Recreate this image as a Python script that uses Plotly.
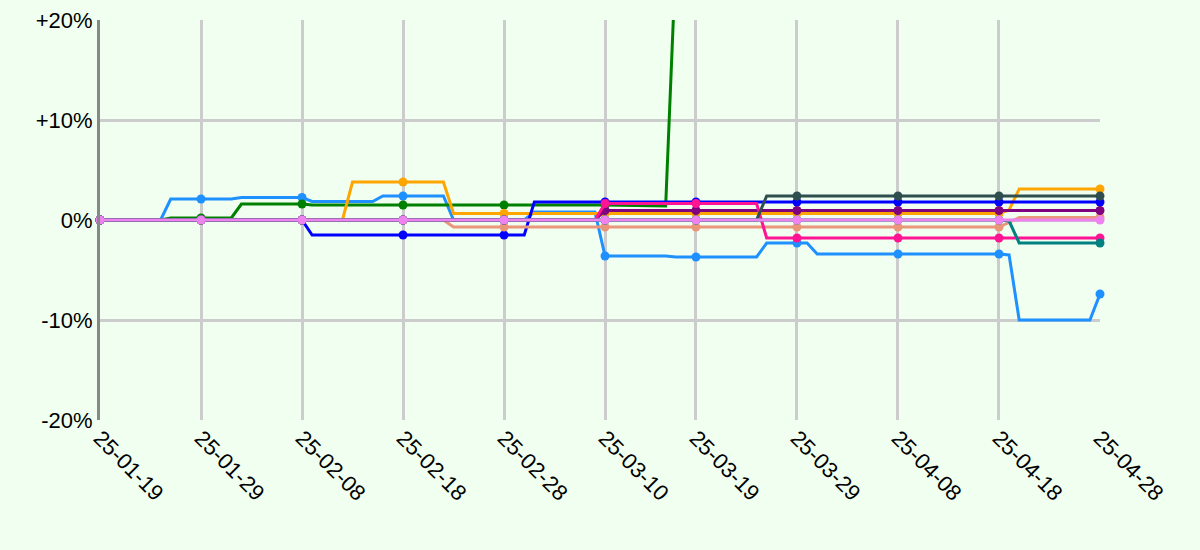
import plotly.graph_objects as go

# ---------------- data (percent change) ----------------
TICK_DATES = ["2025-01-19", "2025-01-29", "2025-02-08", "2025-02-18", "2025-02-28",
              "2025-03-10", "2025-03-19", "2025-03-29", "2025-04-08", "2025-04-18",
              "2025-04-28"]
TICK_TEXT = ["25-01-19", "25-01-29", "25-02-08", "25-02-18", "25-02-28",
             "25-03-10", "25-03-19", "25-03-29", "25-04-08", "25-04-18", "25-04-28"]
Y_TICKS = [-20, -10, 0, 10, 20]
Y_TEXT = ["-20%", "-10%", "0%", "+10%", "+20%"]

dodger_dates = ["2025-01-19", "2025-01-25", "2025-01-26", "2025-01-29", "2025-02-01",
                "2025-02-02", "2025-02-08", "2025-02-09", "2025-02-15", "2025-02-16",
                "2025-02-18", "2025-02-22", "2025-02-23", "2025-02-28", "2025-03-02",
                "2025-03-03", "2025-03-09", "2025-03-10", "2025-03-16", "2025-03-17",
                "2025-03-19", "2025-03-25", "2025-03-26", "2025-03-29", "2025-03-30",
                "2025-03-31", "2025-04-08", "2025-04-18", "2025-04-19", "2025-04-20",
                "2025-04-27", "2025-04-28"]
dodger_vals = [0, 0, 2.1, 2.1, 2.1,
               2.25, 2.25, 1.85, 1.85, 2.4,
               2.4, 2.4, 0, 0, 0,
               0.8, 0.8, -3.6, -3.6, -3.7,
               -3.7, -3.7, -2.3, -2.3, -2.3,
               -3.4, -3.4, -3.4, -3.5, -10.0,
               -10.0, -7.4]

green_dates = ["2025-01-19", "2025-01-25", "2025-01-26", "2025-01-29", "2025-02-01",
               "2025-02-02", "2025-02-08", "2025-02-09", "2025-02-18", "2025-02-28",
               "2025-03-10", "2025-03-16", "2025-03-17"]
green_vals = [0, 0, 0.2, 0.2, 0.2,
              1.6, 1.6, 1.5, 1.5, 1.5,
              1.5, 1.4, 26.0]

orange_dates = ["2025-01-19", "2025-01-29", "2025-02-08", "2025-02-12", "2025-02-13",
                "2025-02-18", "2025-02-22", "2025-02-23", "2025-02-28", "2025-03-10",
                "2025-03-19", "2025-03-29", "2025-04-08", "2025-04-18", "2025-04-19",
                "2025-04-20", "2025-04-28"]
orange_vals = [0, 0, 0, 0, 3.8,
               3.8, 3.8, 0.65, 0.65, 0.65,
               0.65, 0.65, 0.65, 0.65, 1.0,
               3.1, 3.1]

blue_dates = ["2025-01-19", "2025-01-29", "2025-02-08", "2025-02-09", "2025-02-18",
              "2025-02-28", "2025-03-02", "2025-03-03", "2025-03-10", "2025-03-19",
              "2025-03-29", "2025-04-08", "2025-04-18", "2025-04-28"]
blue_vals = [0, 0, 0, -1.5, -1.5,
             -1.5, -1.5, 1.8, 1.8, 1.8,
             1.8, 1.8, 1.8, 1.8]

salmon_dates = ["2025-01-19", "2025-01-29", "2025-02-08", "2025-02-18", "2025-02-22",
                "2025-02-23", "2025-02-28", "2025-03-10", "2025-03-19", "2025-03-29",
                "2025-04-08", "2025-04-18", "2025-04-19", "2025-04-20", "2025-04-28"]
salmon_vals = [0, 0, 0, 0, 0,
               -0.7, -0.7, -0.7, -0.7, -0.7,
               -0.7, -0.7, -0.25, 0.25, 0.25]

purple_dates = ["2025-01-19", "2025-01-29", "2025-02-08", "2025-02-18", "2025-02-28",
                "2025-03-09", "2025-03-10", "2025-03-19", "2025-03-29", "2025-04-08",
                "2025-04-18", "2025-04-28"]
purple_vals = [0, 0, 0, 0, 0,
               0, 0.95, 0.95, 0.95, 0.95,
               0.95, 0.95]

pink_dates = ["2025-01-19", "2025-01-29", "2025-02-08", "2025-02-18", "2025-02-28",
              "2025-03-09", "2025-03-10", "2025-03-19", "2025-03-25", "2025-03-26",
              "2025-03-29", "2025-04-08", "2025-04-18", "2025-04-28"]
pink_vals = [0, 0, 0, 0, 0,
             0, 1.65, 1.65, 1.65, -1.8,
             -1.8, -1.8, -1.8, -1.8]

slate_dates = ["2025-01-19", "2025-01-29", "2025-02-08", "2025-02-18", "2025-02-28",
               "2025-03-10", "2025-03-19", "2025-03-25", "2025-03-26", "2025-03-29",
               "2025-04-08", "2025-04-18", "2025-04-28"]
slate_vals = [0, 0, 0, 0, 0,
              0, 0, 0, 2.4, 2.4,
              2.4, 2.4, 2.4]

teal_dates = ["2025-01-19", "2025-01-29", "2025-02-08", "2025-02-18", "2025-02-28",
              "2025-03-10", "2025-03-19", "2025-03-29", "2025-04-08", "2025-04-18",
              "2025-04-19", "2025-04-20", "2025-04-28"]
teal_vals = [0, 0, 0, 0, 0,
             0, 0, 0, 0, 0,
             -0.1, -2.3, -2.3]

violet_dates = list(TICK_DATES)
violet_vals = [0, 0, 0, 0, 0, 0, 0, 0, 0, 0, 0]

SERIES = [
    (dodger_dates, dodger_vals, "#1E90FF"),
    (green_dates, green_vals, "#008000"),
    (orange_dates, orange_vals, "#FFA500"),
    (blue_dates, blue_vals, "#0000FF"),
    (salmon_dates, salmon_vals, "#E9967A"),
    (purple_dates, purple_vals, "#800080"),
    (pink_dates, pink_vals, "#FF1493"),
    (slate_dates, slate_vals, "#2F4F4F"),
    (teal_dates, teal_vals, "#008080"),
    (violet_dates, violet_vals, "#EE82EE"),
]

Y_MIN, Y_MAX = -20, 20

# ---------------- figure ----------------
fig = go.Figure()
for dates, vals, color in SERIES:
    fig.add_trace(go.Scatter(
        x=dates, y=vals, mode="lines",
        line=dict(color=color, width=3),
        hoverinfo="skip", showlegend=False,
    ))
    mx = [d for d, v in zip(dates, vals) if d in TICK_DATES and Y_MIN <= v <= Y_MAX]
    my = [v for d, v in zip(dates, vals) if d in TICK_DATES and Y_MIN <= v <= Y_MAX]
    fig.add_trace(go.Scatter(
        x=mx, y=my, mode="markers",
        marker=dict(color=color, size=9, line=dict(width=0)),
        cliponaxis=False, hoverinfo="skip", showlegend=False,
    ))

FONT = dict(family="Arial, Liberation Sans, sans-serif", size=22, color="#000000")

fig.update_layout(
    width=1200, height=550,
    margin=dict(l=100, r=100, t=20, b=130, autoexpand=False),
    paper_bgcolor="#F0FFF0", plot_bgcolor="#F0FFF0",
    font=FONT,
    hovermode=False,
    xaxis=dict(
        type="date", range=[TICK_DATES[0], TICK_DATES[-1]],
        tickmode="array", tickvals=TICK_DATES, ticktext=TICK_TEXT,
        tickangle=45, showgrid=True, gridcolor="#CCCCCC", gridwidth=3,
        showline=False, zeroline=False, ticks="", tickfont=FONT,
        automargin=False,
    ),
    yaxis=dict(
        range=[Y_MIN, Y_MAX], tickmode="array", tickvals=Y_TICKS, ticktext=Y_TEXT,
        showgrid=True, gridcolor="#CCCCCC", gridwidth=3, zeroline=False,
        showline=True, linecolor="#888888", linewidth=3,
        ticks="", tickfont=FONT, automargin=False,
    ),
)

fig.write_html(
    "out.html",
    config={"displayModeBar": False, "staticPlot": True},
    post_script="document.body.style.margin='0';document.body.style.background='#F0FFF0';",
)
